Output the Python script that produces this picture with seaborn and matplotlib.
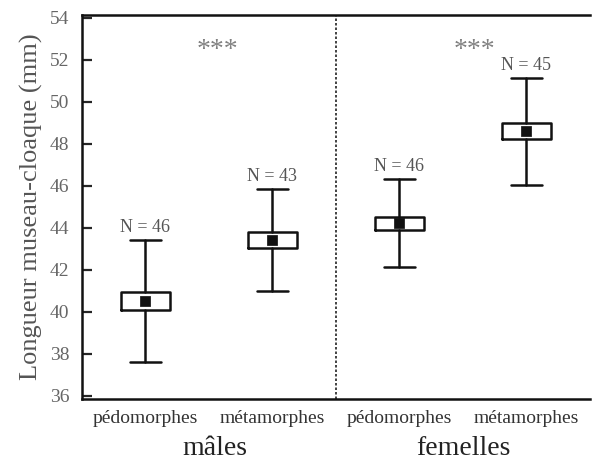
# plot.py - longueur museau-cloaque, pédomorphes vs métamorphes par sexe
import numpy as np
import pandas as pd
import seaborn as sns
import matplotlib.pyplot as plt
from matplotlib import transforms

# --- data ---
morphs     = ["pédomorphes", "métamorphes", "pédomorphes", "métamorphes"]
sexes      = ["mâles", "mâles", "femelles", "femelles"]
n_obs      = [46, 43, 46, 45]
means      = [40.5, 43.43, 44.22, 48.6]
box_low    = [40.08, 43.04, 43.90, 48.22]
box_high   = [40.95, 43.83, 44.54, 48.98]
whisk_low  = [37.63, 41.01, 42.13, 46.06]
whisk_high = [43.43, 45.87, 46.34, 51.13]
signif     = ["***", "***"]
sex_labels = ["mâles", "femelles"]

df = pd.DataFrame({
    "pos": np.arange(len(morphs)),
    "morph": morphs,
    "sexe": sexes,
    "n": n_obs,
    "mean": means,
    "lo": box_low,
    "hi": box_high,
    "wlo": whisk_low,
    "whi": whisk_high,
})

sns.set_theme(style="white")
plt.rcParams["font.family"] = ["Liberation Serif", "DejaVu Serif"]

fig = plt.figure(figsize=(5.92, 4.63), dpi=100)
ax = fig.add_axes([0.1385, 0.138, 0.858, 0.83])

# boxes = mean +/- SE, whiskers = extremes shown in the figure
stats = [
    {"med": r["mean"], "q1": r["lo"], "q3": r["hi"],
     "whislo": r["wlo"], "whishi": r["whi"], "fliers": []}
    for _, r in df.iterrows()
]
lw = 1.8
ax.bxp(stats, positions=df["pos"], widths=0.39, showfliers=False,
       boxprops=dict(color="#111111", linewidth=lw),
       whiskerprops=dict(color="#111111", linewidth=lw),
       capprops=dict(color="#111111", linewidth=lw),
       medianprops=dict(linewidth=0), capwidths=0.245, manage_ticks=False)

sns.scatterplot(data=df, x="pos", y="mean", marker="s", s=42,
                color="#111111", edgecolor="#111111", ax=ax, zorder=5,
                legend=False)

# N labels above whiskers
for _, r in df.iterrows():
    ax.annotate(f"N = {r['n']}", (r["pos"], r["whi"]), xytext=(0, 3),
                textcoords="offset points", ha="center", va="bottom",
                fontsize=13, color="#555555")

# significance stars
for x, s in zip([0.57, 2.59], signif):
    ax.text(x, 52.45, s, ha="center", va="center", fontsize=20,
            color="#808080")

# divider between sexes
ax.axvline(1.5, color="#222222", linestyle=(0, (1.5, 1.2)), linewidth=1.2)

ax.set_xlim(-0.5, 3.5)
ax.set_ylim(35.85, 54.15)
ax.set_yticks(np.arange(36, 55, 2))
ax.set_xticks(df["pos"])
ax.set_xticklabels(df["morph"], fontsize=14, color="#333333")
ax.tick_params(axis="x", length=0, pad=8)
ax.tick_params(axis="y", direction="in", length=7, width=1.6,
               labelsize=14, labelcolor="#666666", pad=9, left=True)
ax.set_xlabel("")
ax.set_ylabel("Longueur museau-cloaque (mm)", fontsize=19, color="#555555",
              labelpad=5)

for side in ["left", "bottom", "top"]:
    ax.spines[side].set_linewidth(1.8)
    ax.spines[side].set_color("#111111")
ax.spines["right"].set_visible(False)

# sex labels under tick labels
trans = transforms.blended_transform_factory(ax.transData, ax.transAxes)
for x, s in zip([0.55, 2.5], sex_labels):
    ax.text(x, -0.128, s, transform=trans, ha="center", va="center",
            fontsize=20, color="#222222")

fig.savefig("out.png", dpi=100)
